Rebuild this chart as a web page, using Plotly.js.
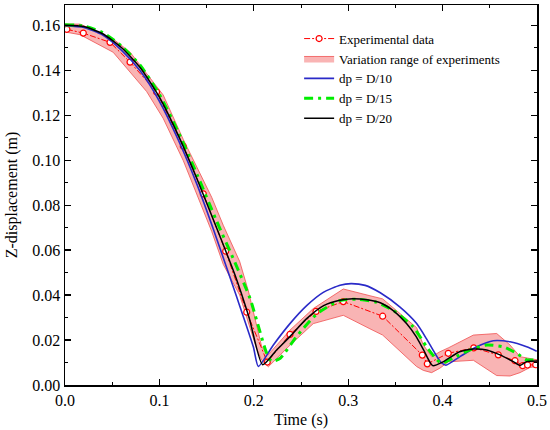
<!DOCTYPE html>
<html>
<head>
<meta charset="utf-8">
<script src="https://cdn.plot.ly/plotly-3.0.1.min.js"></script>
<style>html,body{margin:0;padding:0;background:#fff;}#chart{width:550px;height:430px;}</style>
</head>
<body>
<div id="chart"></div>
<script>
// Experimental data (markers)
const expT = [0.002,0.0194,0.0477,0.0689,0.097,0.1253,0.1465,0.1702,0.1925,0.2143,0.2383,0.2659,0.2948,0.3365,0.3785,0.3838,0.406,0.433,0.459,0.4767,0.4848,0.490,0.4986];
const expZ = [0.1582,0.1565,0.1524,0.1436,0.1303,0.1062,0.0850,0.0595,0.0324,0.0102,0.0225,0.0327,0.0371,0.0306,0.0133,0.0094,0.0141,0.0165,0.0134,0.0108,0.0086,0.0089,0.0090];

// Variation range of experiments
const bandT = [0,0.016,0.051,0.069,0.0865,0.104,0.1253,0.1554,0.1677,0.185,0.1942,0.2031,0.2084,0.2154,0.2383,0.263,0.2948,0.323,0.3365,0.3725,0.3796,0.3884,0.3972,0.406,0.4326,0.4573,0.4714,0.482,0.4926,0.5];
const bandUpper = [0.1605,0.1605,0.1539,0.1480,0.1385,0.1290,0.1092,0.0835,0.0710,0.0550,0.0419,0.0270,0.0170,0.0135,0.0244,0.0340,0.0427,0.0397,0.0383,0.0255,0.0178,0.0126,0.0148,0.0165,0.0222,0.0229,0.0178,0.0126,0.0119,0.0112];
const bandLower = [0.1570,0.1558,0.1480,0.1392,0.1305,0.1186,0.0998,0.0683,0.0536,0.0400,0.0280,0.0160,0.0110,0.0081,0.0177,0.0273,0.0310,0.0250,0.0222,0.0082,0.0065,0.0055,0.0075,0.0103,0.0110,0.0042,0.0040,0.0055,0.0078,0.0083];

// dp = D/10
const d10T = [0,0.02,0.04,0.06,0.08,0.10,0.12,0.14,0.158,0.182,0.1995,0.2048,0.2207,0.2383,0.256,0.2736,0.2913,0.303,0.318,0.334,0.3549,0.3725,0.383,0.392,0.3985,0.4035,0.4184,0.436,0.4537,0.4714,0.489,0.4997];
const d10Z = [0.1598,0.1590,0.1556,0.1488,0.1395,0.1262,0.1090,0.0890,0.0683,0.0390,0.0170,0.0083,0.0178,0.0273,0.0353,0.0412,0.0444,0.0451,0.0443,0.0410,0.0346,0.0273,0.0205,0.0140,0.0100,0.0088,0.0126,0.0170,0.0197,0.0192,0.0170,0.0150];

// dp = D/15
const d15T = [0,0.02,0.04,0.06,0.08,0.10,0.12,0.14,0.16,0.18,0.196,0.2137,0.219,0.228,0.245,0.267,0.291,0.31,0.33,0.348,0.369,0.383,0.394,0.399,0.411,0.429,0.447,0.464,0.4785,0.489,0.5];
const d15Z = [0.1602,0.1597,0.1567,0.1507,0.1420,0.1292,0.1125,0.0935,0.0735,0.0545,0.0385,0.0141,0.0105,0.0119,0.0214,0.0317,0.0375,0.0381,0.0368,0.0331,0.0258,0.0170,0.0112,0.0097,0.0119,0.0156,0.0178,0.0170,0.0141,0.0112,0.0112];

// dp = D/20
const d20T = [0,0.02,0.04,0.06,0.08,0.10,0.12,0.14,0.16,0.18,0.195,0.2094,0.224,0.238,0.256,0.274,0.291,0.305,0.32,0.334,0.348,0.362,0.372,0.38,0.3895,0.401,0.418,0.4325,0.4467,0.4608,0.4749,0.482,0.489,0.5];
const d20Z = [0.1600,0.1594,0.1562,0.1500,0.1410,0.1280,0.1110,0.0915,0.0705,0.0490,0.0300,0.0090,0.0155,0.0214,0.0295,0.0353,0.0377,0.0384,0.0379,0.0366,0.0330,0.0272,0.0215,0.0155,0.0086,0.0104,0.0148,0.0160,0.0156,0.0134,0.0104,0.0087,0.0104,0.0107];

const bandX = bandT.concat(bandT.slice().reverse());
const bandY = bandUpper.concat(bandLower.slice().reverse());

const traces = [
  {x: bandX, y: bandY, type: 'scatter', mode: 'lines', fill: 'toself',
   fillcolor: 'rgba(245,130,130,0.6)', line: {color: 'rgb(240,80,80)', width: 0.8},
   name: 'Variation range of experiments', legendrank: 2, hoverinfo: 'skip'},
  {x: expT, y: expZ, type: 'scatter', mode: 'lines+markers', name: 'Experimental data',
   line: {color: '#ff0000', width: 1, dash: '6px,2px,2px,2px'},
   marker: {symbol: 'circle', size: 6, color: '#ffffff', line: {color: '#ff0000', width: 1.2}},
   legendrank: 1},
  {x: d10T, y: d10Z, type: 'scatter', mode: 'lines', name: 'dp = D/10',
   line: {color: '#2a2ac8', width: 1.6, shape: 'spline', smoothing: 0.6}, legendrank: 3},
  {x: d15T, y: d15Z, type: 'scatter', mode: 'lines', name: 'dp = D/15',
   line: {color: '#00ee00', width: 3, dash: '9px,5px,3px,5px', shape: 'spline', smoothing: 0.6}, legendrank: 4},
  {x: d20T, y: d20Z, type: 'scatter', mode: 'lines', name: 'dp = D/20',
   line: {color: '#000000', width: 1.5, shape: 'spline', smoothing: 0.6}, legendrank: 5}
];

const fontFam = 'Liberation Serif, Times New Roman, serif';
const layout = {
  width: 550, height: 430,
  margin: {l: 65, r: 13, t: 5, b: 45},
  paper_bgcolor: '#ffffff', plot_bgcolor: '#ffffff',
  font: {family: fontFam, size: 16, color: '#000'},
  showlegend: true,
  legend: {x: 0.496, y: 0.951, xanchor: 'left', yanchor: 'top', bgcolor: 'rgba(0,0,0,0)',
           font: {family: fontFam, size: 13, color: '#000'}, tracegroupgap: 0},
  xaxis: {range: [0, 0.5], dtick: 0.1, tick0: 0, tickformat: '.1f',
          ticks: 'inside', ticklen: 6, tickwidth: 1.2, tickcolor: '#000',
          minor: {dtick: 0.05, ticks: 'inside', ticklen: 3, tickwidth: 1, tickcolor: '#000'},
          showline: true, linecolor: '#000', linewidth: 1.5, mirror: 'ticks',
          showgrid: false, zeroline: false,
          title: {text: 'Time (s)', font: {family: fontFam, size: 16}, standoff: 6},
          tickfont: {family: fontFam, size: 16}},
  yaxis: {range: [0, 0.169], dtick: 0.02, tick0: 0, tickformat: '.2f',
          ticks: 'inside', ticklen: 6, tickwidth: 1.2, tickcolor: '#000',
          minor: {dtick: 0.01, ticks: 'inside', ticklen: 3, tickwidth: 1, tickcolor: '#000'},
          showline: true, linecolor: '#000', linewidth: 1.5, mirror: 'ticks',
          showgrid: false, zeroline: false,
          title: {text: 'Z-displacement (m)', font: {family: fontFam, size: 16}, standoff: 10},
          tickfont: {family: fontFam, size: 16}}
};

Plotly.newPlot('chart', traces, layout, {staticPlot: true, displayModeBar: false});
</script>
</body>
</html>
